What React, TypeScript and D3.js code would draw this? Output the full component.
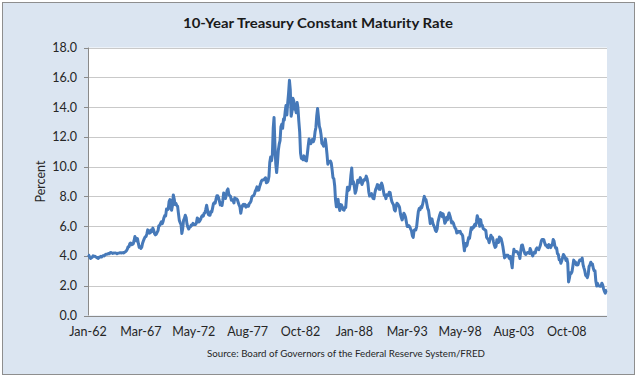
import React from 'react';
import * as d3 from 'd3';

const chartTitle = '10-Year Treasury Constant Maturity Rate';
const sourceNote = 'Source: Board of Governors of the Federal Reserve System/FRED';
const yAxisTitle = 'Percent';
const yTicks = [0, 2, 4, 6, 8, 10, 12, 14, 16, 18];
// x tick labels (year, month index)
const xTickYears = [1962, 1967, 1972, 1977, 1982, 1988, 1993, 1998, 2003, 2008];
const xTickMonths = [0, 2, 4, 7, 9, 0, 2, 4, 7, 9];

const startYear = 1962;
// monthly values, percent
const rates1960s = [
  4.08, 4.04, 3.93, 3.84, 3.87, 3.91, 4.01, 3.98, 3.98, 3.93, 3.92, 3.86,
  3.83, 3.92, 3.93, 3.97, 3.93, 3.99, 4.02, 4.0, 4.08, 4.11, 4.12, 4.13,
  4.17, 4.15, 4.22, 4.23, 4.2, 4.17, 4.19, 4.19, 4.2, 4.19, 4.15, 4.18,
  4.19, 4.21, 4.21, 4.2, 4.21, 4.21, 4.2, 4.25, 4.29, 4.35, 4.45, 4.62,
  4.61, 4.83, 4.87, 4.75, 4.78, 4.81, 5.02, 5.3, 5.18, 5.01, 5.16, 4.84,
  4.58, 4.63, 4.5, 4.59, 4.85, 5.02, 5.16, 5.28, 5.3, 5.48, 5.75, 5.7,
  5.53, 5.56, 5.74, 5.64, 5.87, 5.72, 5.5, 5.42, 5.46, 5.58, 5.7, 6.03,
  6.04, 6.19, 6.3, 6.17, 6.32, 6.57, 6.72, 6.69, 7.16, 7.1, 7.14, 7.65,
];
const rates1970s = [
  7.79, 7.24, 7.07, 7.39, 8.1, 7.84, 7.46, 7.53, 7.39, 7.33, 6.84, 6.39,
  6.24, 6.11, 5.5, 5.83, 6.39, 6.52, 6.73, 6.58, 6.14, 5.93, 5.81, 5.93,
  5.95, 6.08, 6.07, 6.19, 6.13, 6.11, 6.11, 6.21, 6.55, 6.48, 6.28, 6.36,
  6.46, 6.64, 6.71, 6.67, 6.85, 6.9, 7.13, 7.4, 7.09, 6.79, 6.73, 6.74,
  6.99, 6.96, 7.21, 7.51, 7.58, 7.54, 7.81, 8.04, 8.04, 7.9, 7.68, 7.43,
  7.5, 7.39, 7.73, 8.23, 8.06, 7.86, 8.06, 8.4, 8.5, 8.14, 8.05, 8.0,
  7.74, 7.79, 7.73, 7.56, 7.9, 7.86, 7.83, 7.77, 7.59, 7.41, 7.29, 6.87,
  7.21, 7.39, 7.46, 7.37, 7.46, 7.28, 7.33, 7.4, 7.34, 7.52, 7.58, 7.69,
  7.96, 8.03, 8.04, 8.15, 8.35, 8.46, 8.64, 8.41, 8.42, 8.64, 8.81, 9.01,
  9.1, 9.1, 9.12, 9.18, 9.25, 8.91, 8.95, 9.03, 9.33, 10.3, 10.65, 10.39,
];
const rates1980s = [
  10.8, 12.6, 13.3, 11.47, 10.18, 9.6, 10.25, 11.1, 11.51, 11.75, 12.68, 12.84,
  12.57, 13.19, 13.12, 13.68, 14.1, 13.47, 14.28, 14.94, 15.8, 15.15, 13.39, 13.72,
  14.59, 14.43, 13.86, 13.87, 13.62, 14.3, 13.95, 13.06, 12.34, 10.91, 10.55, 10.54,
  10.46, 10.72, 10.51, 10.4, 10.38, 10.85, 11.38, 11.85, 11.65, 11.54, 11.69, 11.83,
  11.67, 11.84, 12.32, 12.63, 13.41, 13.9, 13.36, 12.72, 12.52, 12.16, 11.57, 11.5,
  11.38, 11.51, 11.86, 11.43, 10.85, 10.16, 10.31, 10.33, 10.37, 10.24, 9.78, 9.26,
  9.19, 8.7, 7.78, 7.3, 7.71, 7.8, 7.3, 7.05, 7.45, 7.43, 7.25, 7.11,
  7.08, 7.25, 7.25, 8.02, 8.61, 8.4, 8.45, 8.76, 9.42, 9.9, 8.86, 8.99,
  8.67, 8.21, 8.37, 8.72, 9.09, 8.92, 9.06, 9.26, 8.98, 8.8, 8.96, 9.11,
  9.09, 9.17, 9.36, 9.18, 8.86, 8.28, 8.02, 8.11, 8.19, 8.01, 7.87, 7.84,
];
const rates1990s = [
  8.21, 8.47, 8.59, 8.79, 8.76, 8.48, 8.47, 8.75, 8.89, 8.72, 8.39, 8.08,
  8.09, 7.85, 8.11, 8.04, 8.07, 8.28, 8.27, 7.9, 7.65, 7.53, 7.42, 7.09,
  7.03, 7.34, 7.54, 7.48, 7.39, 7.26, 6.84, 6.59, 6.42, 6.59, 6.87, 6.77,
  6.6, 6.26, 5.98, 5.97, 6.04, 5.96, 5.81, 5.68, 5.36, 5.25, 5.72, 5.77,
  5.75, 5.97, 6.48, 6.97, 7.18, 7.1, 7.3, 7.24, 7.46, 7.74, 8.0, 7.81,
  7.78, 7.47, 7.2, 7.06, 6.63, 6.17, 6.28, 6.49, 6.2, 6.04, 5.93, 5.71,
  5.65, 5.81, 6.27, 6.51, 6.74, 6.91, 6.87, 6.64, 6.83, 6.53, 6.2, 6.3,
  6.58, 6.42, 6.69, 6.89, 6.71, 6.49, 6.22, 6.3, 6.21, 6.03, 5.88, 5.81,
  5.54, 5.57, 5.65, 5.64, 5.65, 5.5, 5.46, 5.34, 4.81, 4.35, 4.83, 4.65,
  4.72, 5.0, 5.23, 5.18, 5.54, 5.9, 5.79, 5.94, 5.92, 6.11, 6.03, 6.28,
];
const rates2000s = [
  6.7, 6.52, 6.26, 5.99, 6.44, 6.1, 6.05, 5.83, 5.8, 5.74, 5.72, 5.24,
  5.16, 5.1, 4.89, 5.14, 5.39, 5.28, 5.24, 4.97, 4.73, 4.57, 4.65, 5.09,
  5.04, 4.91, 5.28, 5.21, 5.16, 4.93, 4.65, 4.26, 3.87, 3.94, 4.05, 4.03,
  4.05, 3.9, 3.81, 3.96, 3.57, 3.2, 3.98, 4.45, 4.27, 4.29, 4.3, 4.27,
  4.15, 4.08, 3.83, 4.35, 4.72, 4.73, 4.5, 4.28, 4.13, 4.1, 4.19, 4.23,
  4.22, 4.17, 4.5, 4.34, 4.14, 4.0, 4.18, 4.26, 4.2, 4.46, 4.54, 4.47,
  4.42, 4.57, 4.72, 4.99, 5.11, 5.11, 5.09, 4.88, 4.72, 4.73, 4.6, 4.56,
  4.76, 4.72, 4.56, 4.69, 4.75, 5.1, 5.0, 4.67, 4.52, 4.53, 4.15, 4.1,
  3.74, 3.74, 3.51, 3.68, 3.88, 4.1, 4.01, 3.89, 3.69, 3.81, 3.53, 2.25,
  2.52, 2.87, 2.82, 2.93, 3.29, 3.72, 3.56, 3.59, 3.4, 3.39, 3.4, 3.59,
];
const rates2010s = [
  3.73, 3.69, 3.73, 3.85, 3.42, 3.2, 3.01, 2.7, 2.65, 2.54, 2.76, 3.29,
  3.39, 3.58, 3.41, 3.46, 3.17, 3.0, 3.0, 2.3, 1.98, 2.15, 2.01, 1.98,
  1.97, 1.97, 2.17, 2.05, 1.8, 1.62, 1.5, 1.68, 1.7,
];

const W = 638;
const H = 378;
const FONT = "Lato, 'Open Sans', sans-serif";

export default function App() {
  const values = [...rates1960s, ...rates1970s, ...rates1980s, ...rates1990s, ...rates2000s, ...rates2010s];
  const data = values.map((v, i) => ({ date: new Date(startYear, i, 1), v }));
  const tickDates = xTickYears.map((y, i) => new Date(y, xTickMonths[i], 1));
  const fmt = d3.timeFormat('%b-%y');

  const left = 88, right = 607, top = 47.5, bottom = 315.5;
  const x = d3.scaleTime().domain([data[0].date, data[data.length - 1].date]).range([left, right]);
  const y = d3.scaleLinear().domain([0, 18]).range([bottom, top]);
  const line = d3.line<{ date: Date; v: number }>().x(d => x(d.date)).y(d => y(d.v));

  return (
    <svg width={W} height={H} style={{ position: 'fixed', left: 0, top: 0 }} fontFamily={FONT}>
      <rect x={0} y={0} width={W} height={H} fill="#ffffff" />
      <rect x={2.5} y={2.5} width={632} height={372} fill="#dbe5f1" stroke="#8e8e8e" strokeWidth={1} />
      <rect x={left} y={top} width={right - left} height={bottom - top} fill="#ffffff" />
      {yTicks.map(t => (
        <g key={t}>
          {t > 0 && (
            <line x1={left} x2={right} y1={Math.round(y(t)) + 0.5} y2={Math.round(y(t)) + 0.5} stroke="#c9c9c9" strokeWidth={1} />
          )}
          <line x1={left - 4} x2={left} y1={Math.round(y(t)) + 0.5} y2={Math.round(y(t)) + 0.5} stroke="#8a8a8a" />
          <text x={77} y={y(t) + 4.5} textAnchor="end" fontSize={12.5} fill="#262626">
            {t.toFixed(1)}
          </text>
        </g>
      ))}
      <line x1={left + 0.5} x2={left + 0.5} y1={top} y2={bottom} stroke="#8a8a8a" />
      <line x1={left - 4} x2={right} y1={Math.round(bottom) + 0.5} y2={Math.round(bottom) + 0.5} stroke="#8a8a8a" />
      {tickDates.map((d, i) => (
        <text key={i} x={x(d)} y={336} textAnchor="middle" fontSize={12.5} fill="#262626">
          {fmt(d)}
        </text>
      ))}
      <path d={line(data) || ''} fill="none" stroke="#4679b9" strokeWidth={3} strokeLinejoin="round" />
      <text x={318} y={28} textAnchor="middle" fontSize={14} fontWeight="bold" fill="#1a1a1a" textLength={270} lengthAdjust="spacingAndGlyphs">
        {chartTitle}
      </text>
      <text transform={`translate(45,${(top + bottom) / 2}) rotate(-90)`} textAnchor="middle" fontSize={12.5} fill="#262626">
        {yAxisTitle}
      </text>
      <text x={346} y={357} textAnchor="middle" fontSize={9.5} fill="#262626" textLength={278} lengthAdjust="spacingAndGlyphs">
        {sourceNote}
      </text>
    </svg>
  );
}
